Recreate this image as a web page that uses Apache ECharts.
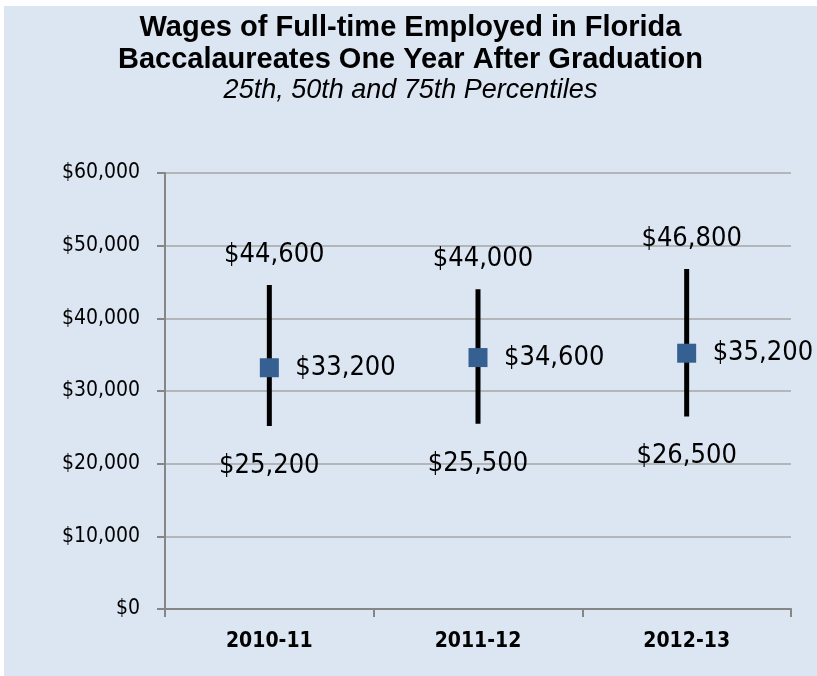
<!DOCTYPE html>
<html>
<head>
<meta charset="utf-8">
<script src="https://cdn.jsdelivr.net/npm/echarts@6/dist/echarts.min.js"></script>
<style>
  html, body { margin: 0; padding: 0; background: #fff; }
  #chart { position: absolute; left: 4px; top: 6px; width: 813px; height: 670px; }
</style>
</head>
<body>
<div id="chart"></div>
<script>
// 数据
const years = ['2010-11', '2011-12', '2012-13'];
const p25 = [25200, 25500, 26500];
const p50 = [33200, 34600, 35200];
const p75 = [44600, 44000, 46800];
const yTicks = [0, 10000, 20000, 30000, 40000, 50000, 60000];

const narrow = "'Liberation Sans Narrow', 'DejaVu Sans Condensed', sans-serif";
const money = v => '$' + v.toLocaleString('en-US');

const myChart = echarts.init(document.getElementById('chart'));

const rows = years.map((y, i) => [i, p25[i], p50[i], p75[i]]);

let option = {
  backgroundColor: '#dce6f2',
  animation: false,
  title: [{
    text: 'Wages of Full-time Employed in Florida\nBaccalaureates One Year After Graduation',
    left: 'center',
    top: 1,
    textStyle: { fontFamily: 'Arial, Liberation Sans', fontSize: 29, fontWeight: 'bold', color: '#000', lineHeight: 32 }
  }, {
    text: '25th, 50th and 75th Percentiles',
    left: 'center',
    top: 64,
    textStyle: { fontFamily: 'Arial, Liberation Sans', fontSize: 27, fontStyle: 'italic', fontWeight: 'normal', color: '#000', lineHeight: 30 }
  }],
  grid: { left: 161, right: 26, top: 167, bottom: 67 },
  xAxis: {
    type: 'category',
    data: years,
    axisLine: { lineStyle: { color: '#868686', width: 2 } },
    axisTick: { show: true, length: 8, lineStyle: { color: '#868686', width: 2 } },
    axisLabel: { margin: 22, fontFamily: narrow, fontSize: 21, fontWeight: 'bold', color: '#000' }
  },
  yAxis: {
    type: 'value',
    min: yTicks[0],
    max: yTicks[yTicks.length - 1],
    interval: 10000,
    axisLine: { show: true, lineStyle: { color: '#868686', width: 2 } },
    axisTick: { show: true, length: 8, lineStyle: { color: '#868686', width: 2 } },
    splitLine: { lineStyle: { color: '#a6a6a6', width: 1.5 } },
    axisLabel: { margin: 25, fontFamily: narrow, fontSize: 21, color: '#000', formatter: money }
  },
  series: [{
    type: 'custom',
    data: rows,
    encode: { x: 0, y: [1, 2, 3] },
    renderItem: function (params, api) {
      const x = api.value(0);
      const lo = api.coord([x, api.value(1)]);
      const md = api.coord([x, api.value(2)]);
      const hi = api.coord([x, api.value(3)]);
      const labelStyle = { fontFamily: narrow, fontSize: 27, fill: '#000' };
      return {
        type: 'group',
        children: [{
          type: 'line',
          shape: { x1: lo[0], y1: lo[1], x2: hi[0], y2: hi[1] },
          style: { stroke: '#000', lineWidth: 5 }
        }, {
          type: 'rect',
          shape: { x: md[0] - 9.5, y: md[1] - 9.5, width: 19, height: 19 },
          style: { fill: '#366092' }
        }, {
          type: 'text',
          style: Object.assign({ text: money(api.value(3)), x: hi[0] + 5, y: hi[1] - 30, align: 'center', verticalAlign: 'middle' }, labelStyle)
        }, {
          type: 'text',
          style: Object.assign({ text: money(api.value(1)), x: lo[0], y: lo[1] + 40, align: 'center', verticalAlign: 'middle' }, labelStyle)
        }, {
          type: 'text',
          style: Object.assign({ text: money(api.value(2)), x: md[0] + 26, y: md[1], align: 'left', verticalAlign: 'middle' }, labelStyle)
        }]
      };
    }
  }]
};

myChart.setOption(option);
</script>
</body>
</html>
